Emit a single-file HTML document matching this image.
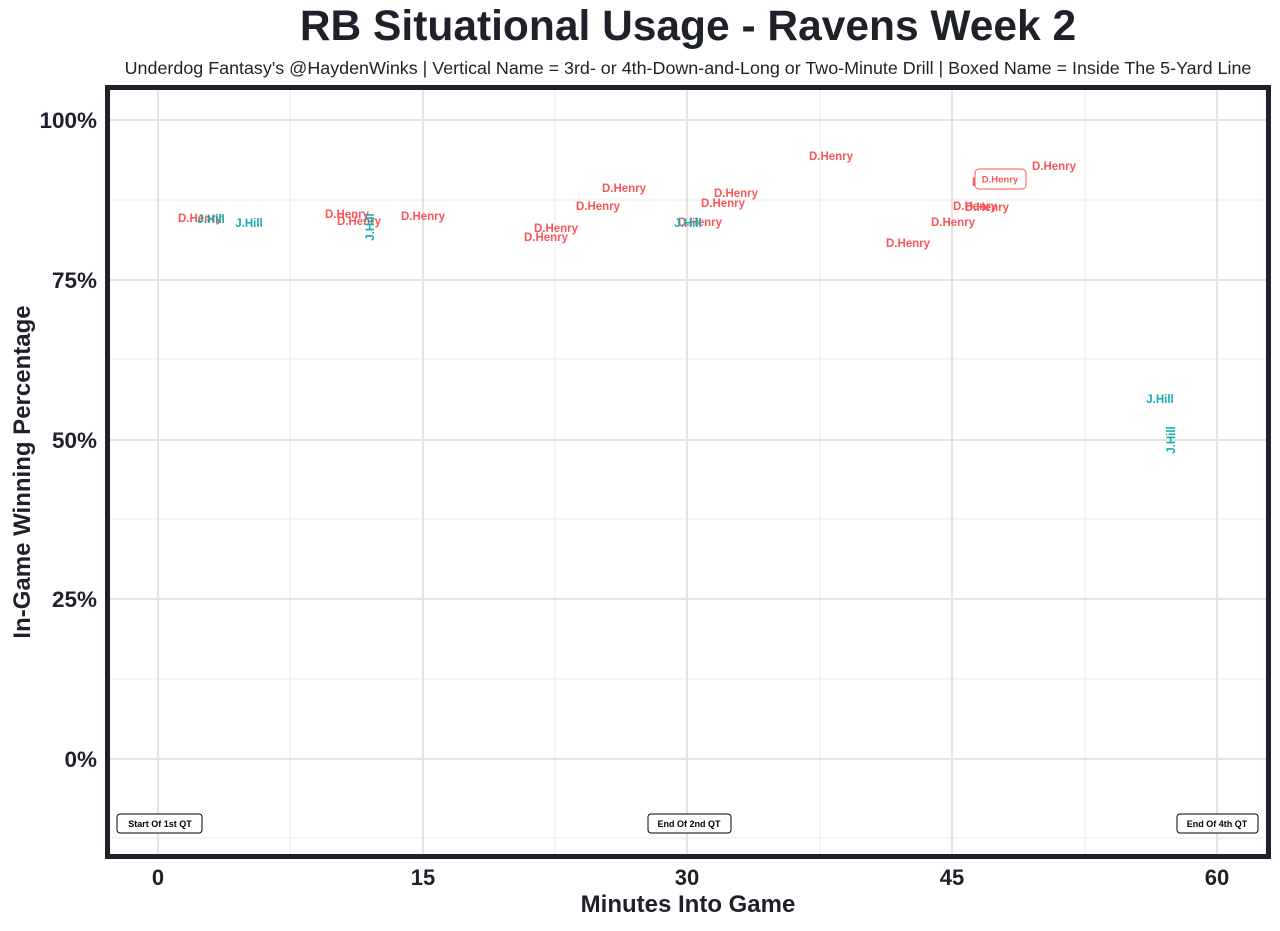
<!DOCTYPE html><html><head><style>body{margin:0;background:#fff}</style></head><body>
<svg width="1280" height="926" xmlns="http://www.w3.org/2000/svg" font-family="Liberation Sans, Arial, sans-serif">
<rect width="1280" height="926" fill="#fff"/>
<text x="688" y="40" text-anchor="middle" font-size="42.5" font-weight="bold" fill="#1e2129">RB Situational Usage - Ravens Week 2</text>
<text x="688" y="74" text-anchor="middle" font-size="17.9" fill="#1e2129">Underdog Fantasy's @HaydenWinks | Vertical Name = 3rd- or 4th-Down-and-Long or Two-Minute Drill | Boxed Name = Inside The 5-Yard Line</text>
<g stroke="#ebebeb" stroke-width="1">
<line x1="290" y1="88" x2="290" y2="856"/><line x1="555" y1="88" x2="555" y2="856"/><line x1="820" y1="88" x2="820" y2="856"/><line x1="1085" y1="88" x2="1085" y2="856"/>
<line x1="108" y1="200" x2="1268" y2="200"/><line x1="108" y1="359" x2="1268" y2="359"/><line x1="108" y1="519" x2="1268" y2="519"/><line x1="108" y1="679" x2="1268" y2="679"/><line x1="108" y1="838" x2="1268" y2="838"/>
</g>
<g stroke="#e3e3e3" stroke-width="2">
<line x1="158" y1="88" x2="158" y2="856"/><line x1="423" y1="88" x2="423" y2="856"/><line x1="687" y1="88" x2="687" y2="856"/><line x1="952" y1="88" x2="952" y2="856"/><line x1="1217" y1="88" x2="1217" y2="856"/>
<line x1="108" y1="120" x2="1268" y2="120"/><line x1="108" y1="280" x2="1268" y2="280"/><line x1="108" y1="440" x2="1268" y2="440"/><line x1="108" y1="599" x2="1268" y2="599"/><line x1="108" y1="759" x2="1268" y2="759"/>
</g>
<g font-size="11.5" font-weight="bold" text-anchor="middle" dominant-baseline="central">
<g fill="#f8575a">
<text x="200" y="219">D.Henry</text><text x="347" y="215">D.Henry</text><text x="359" y="222">D.Henry</text><text x="423" y="217">D.Henry</text>
<text x="556" y="229">D.Henry</text><text x="546" y="238">D.Henry</text><text x="598" y="207">D.Henry</text><text x="624" y="189">D.Henry</text>
<text x="700" y="223">D.Henry</text><text x="723" y="204">D.Henry</text><text x="736" y="194">D.Henry</text><text x="831" y="157">D.Henry</text>
<text x="908" y="244">D.Henry</text><text x="953" y="223">D.Henry</text><text x="975" y="207">D.Henry</text><text x="987" y="208">D.Henry</text>
<text x="994" y="183">D.Henry</text><text x="1054" y="167">D.Henry</text>
</g>
<g fill="#12adb0">
<text x="211" y="220">J.Hill</text><text x="249" y="224">J.Hill</text><text x="688" y="224">J.Hill</text><text x="1160" y="400">J.Hill</text>
<text transform="translate(371,227) rotate(-90)">J.Hill</text><text transform="translate(1172,440) rotate(-90)">J.Hill</text>
</g>
</g>
<rect x="975" y="169" width="51" height="20" rx="4" fill="#fff" stroke="#f8575a"/>
<text x="1000" y="180" text-anchor="middle" dominant-baseline="central" font-size="9.5" font-weight="bold" fill="#f8575a">D.Henry</text>
<g font-size="9" font-weight="bold" text-anchor="middle" dominant-baseline="central" fill="#000">
<rect x="117" y="814" width="85" height="19" rx="3" fill="#fff" stroke="#000"/><text x="160" y="824">Start Of 1st QT</text>
<rect x="648" y="814" width="83" height="19" rx="3" fill="#fff" stroke="#000"/><text x="689" y="824">End Of 2nd QT</text>
<rect x="1177" y="814" width="81" height="19" rx="3" fill="#fff" stroke="#000"/><text x="1217" y="824">End Of 4th QT</text>
</g>
<rect x="107.5" y="87.5" width="1161" height="769" fill="none" stroke="#1e2129" stroke-width="5"/>
<g font-size="22.5" font-weight="bold" fill="#1e2129" text-anchor="end">
<text x="97" y="128">100%</text><text x="97" y="288">75%</text><text x="97" y="448">50%</text><text x="97" y="607">25%</text><text x="97" y="767">0%</text>
</g>
<g font-size="22" font-weight="bold" fill="#1e2129" text-anchor="middle">
<text x="158" y="885">0</text><text x="423" y="885">15</text><text x="687" y="885">30</text><text x="952" y="885">45</text><text x="1217" y="885">60</text>
<text x="688" y="912" font-size="24">Minutes Into Game</text>
<text transform="translate(30,472) rotate(-90)" font-size="24">In-Game Winning Percentage</text>
</g>
</svg>
</body></html>
